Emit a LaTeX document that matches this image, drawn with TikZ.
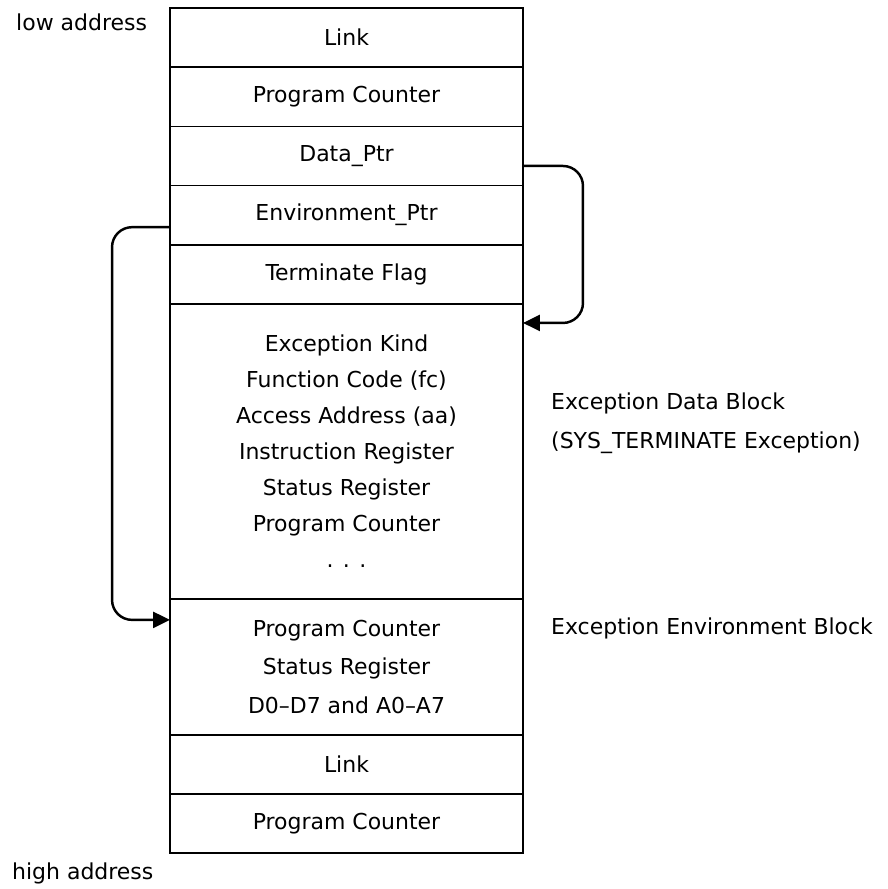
\documentclass[tikz,border=0pt]{standalone}
\usepackage{fontspec}
\setmainfont{DejaVu Sans}
\usetikzlibrary{positioning,arrows.meta}

\begin{document}
\begin{tikzpicture} [x=0.02cm, y=-0.02cm,
  cell/.style={draw, line width=1pt, outer sep=0pt, minimum width=7.06cm, minimum height=1.184cm, align=center},
  ptr/.style={line width=1.4pt, rounded corners=0.4cm, -{Triangle[length=0.34cm, width=0.32cm]}},
  every node/.style={font=\fontsize{12.5}{20.5}\selectfont}]

\useasboundingbox (0,0) rectangle (887,889);

\node [cell] (link) at (346.5,37.6) {Link};
\node [cell, below=0pt of link] (pc) {Program Counter};
\node [cell, below=0pt of pc] (dptr) {Data\_Ptr};
\node [cell, below=0pt of dptr] (eptr) {Environment\_Ptr};
\node [cell, below=0pt of eptr] (tflag) {Terminate Flag};
\node [cell, below=0pt of tflag, minimum height=5.9cm] (exc) {Exception Kind\\Function Code (fc)\\Access Address (aa)\\Instruction Register\\Status Register\\Program Counter\\. . .};
\node [cell, below=0pt of exc, minimum height=2.72cm, font=\fontsize{12.5}{22}\selectfont] (env) {Program Counter\\Status Register\\D0--D7 and A0--A7};
\node [cell, below=0pt of env] (link2) {Link};
\node [cell, below=0pt of link2] (pc2) {Program Counter};

\node [anchor=west] (low) at (10,22) {low address};
\node [anchor=west] (high) at (6,873) {high address};
\node [anchor=west] (datablk) at (545,403) {Exception Data Block};
\node [anchor=west] (systerm) at (545,443) {(SYS\_TERMINATE Exception)};
\node [anchor=west] (envblk) at (545,628) {Exception Environment Block};

\draw [ptr] ([yshift=-0.2cm]dptr.east) -- ++(60,0) |- ([yshift=-0.38cm]exc.north east);
\draw [ptr] ([yshift=-0.24cm]eptr.west) -- ++(-58,0) |- ([yshift=-0.42cm]env.north west);

\end{tikzpicture}
\end{document}
